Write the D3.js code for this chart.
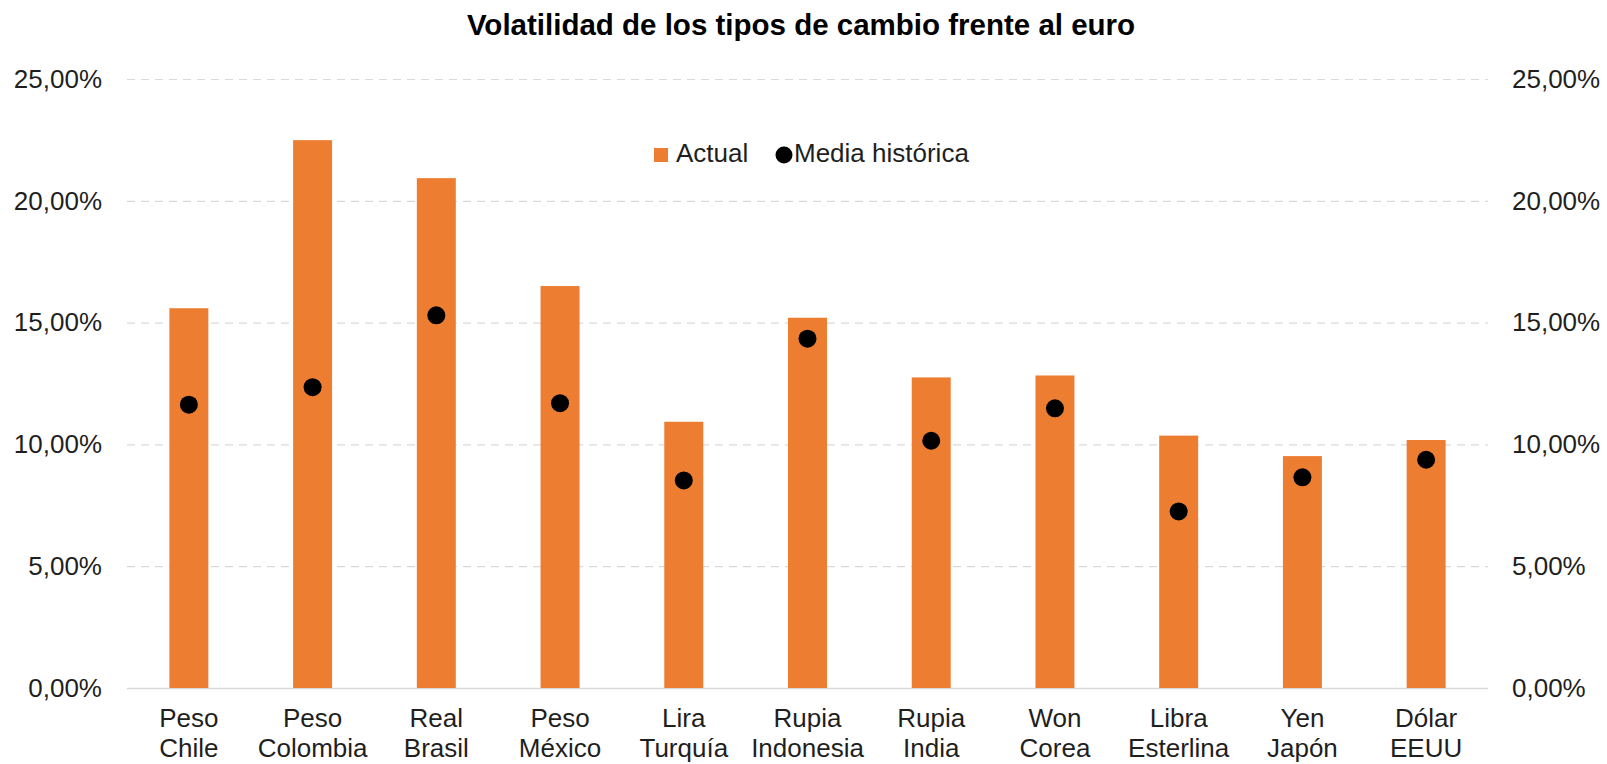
<!DOCTYPE html>
<html>
<head>
<meta charset="utf-8">
<script src="https://cdn.jsdelivr.net/npm/d3@7"></script>
<style>
  body { margin: 0; background: #fff; }
  text { font-family: "Liberation Sans", Arial, sans-serif; fill: #1f1f1f; }
</style>
</head>
<body>
<div id="chart"></div>
<script>
// categories (two lines each)
var categories = [
  ["Peso", "Chile"], ["Peso", "Colombia"], ["Real", "Brasil"], ["Peso", "México"],
  ["Lira", "Turquía"], ["Rupia", "Indonesia"], ["Rupia", "India"], ["Won", "Corea"],
  ["Libra", "Esterlina"], ["Yen", "Japón"], ["Dólar", "EEUU"]
];
// volatilidad actual (%)
var actual = [15.59, 22.49, 20.93, 16.50, 10.93, 15.20, 12.75, 12.83, 10.36, 9.52, 10.18];
// media histórica (%)
var mediaHistorica = [11.63, 12.35, 15.30, 11.69, 8.52, 14.34, 10.15, 11.48, 7.25, 8.65, 9.37];
var yTicks = [0, 5, 10, 15, 20, 25];

var W = 1607, H = 764;
var margin = { top: 79, right: W - 1488, bottom: H - 688, left: 127 };
var orange = "#ED7D31";

var svg = d3.select("#chart").append("svg")
  .attr("width", W)
  .attr("height", H);

var names = categories.map(d => d.join(" "));

var x = d3.scaleBand()
  .domain(names)
  .range([margin.left, W - margin.right])
  .paddingInner(0.685)
  .paddingOuter(0.3425);

var y = d3.scaleLinear()
  .domain([0, 25])
  .range([H - margin.bottom, margin.top]);

var fmt = v => v.toFixed(2).replace(".", ",") + "%";

// title
svg.append("text")
  .attr("x", 801)
  .attr("y", 35)
  .attr("text-anchor", "middle")
  .style("font-size", "29.5px")
  .style("font-weight", "bold")
  .style("fill", "#000")
  .text("Volatilidad de los tipos de cambio frente al euro");

// gridlines
svg.append("g")
  .selectAll("line")
  .data(yTicks)
  .enter()
  .append("line")
  .attr("x1", margin.left)
  .attr("x2", W - margin.right)
  .attr("y1", d => y(d) + 0.5)
  .attr("y2", d => y(d) + 0.5)
  .attr("stroke", "#d9d9d9")
  .attr("stroke-width", d => d === 0 ? 1.5 : 1.2)
  .attr("stroke-dasharray", d => d === 0 ? null : "8,6");

// axes
var yLeft = d3.axisLeft(y).tickValues(yTicks).tickSize(0).tickPadding(25).tickFormat(fmt);
var yRight = d3.axisRight(y).tickValues(yTicks).tickSize(0).tickPadding(24).tickFormat(fmt);

svg.append("g")
  .attr("transform", "translate(" + margin.left + ",0)")
  .call(yLeft)
  .call(g => g.select(".domain").remove())
  .selectAll("text")
  .style("font-size", "26px")
  .attr("fill", "#1f1f1f");

svg.append("g")
  .attr("transform", "translate(" + (W - margin.right) + ",0)")
  .call(yRight)
  .call(g => g.select(".domain").remove())
  .selectAll("text")
  .style("font-size", "26px")
  .attr("fill", "#1f1f1f");

// bars
svg.append("g")
  .selectAll("rect")
  .data(actual)
  .enter()
  .append("rect")
  .attr("x", (d, i) => x(names[i]))
  .attr("width", x.bandwidth())
  .attr("y", d => y(d))
  .attr("height", d => y(0) - y(d))
  .attr("fill", orange);

// media historica
svg.append("g")
  .selectAll("circle")
  .data(mediaHistorica)
  .enter()
  .append("circle")
  .attr("cx", (d, i) => x(names[i]) + x.bandwidth() / 2)
  .attr("cy", d => y(d))
  .attr("r", 9)
  .attr("fill", "#000");

// category labels
var cat = svg.append("g")
  .selectAll("text")
  .data(categories)
  .enter()
  .append("text")
  .attr("text-anchor", "middle")
  .style("font-size", "26px")
  .attr("transform", (d, i) => "translate(" + (x(names[i]) + x.bandwidth() / 2) + ",727)");
cat.append("tspan").attr("x", 0).attr("y", 0).text(d => d[0]);
cat.append("tspan").attr("x", 0).attr("y", 30).text(d => d[1]);

// legend
var legend = svg.append("g");
legend.append("rect")
  .attr("x", 654).attr("y", 148)
  .attr("width", 14).attr("height", 14)
  .attr("fill", orange);
legend.append("text")
  .attr("x", 676).attr("y", 161.5)
  .style("font-size", "26px")
  .text("Actual");
legend.append("circle")
  .attr("cx", 784).attr("cy", 155)
  .attr("r", 8.5)
  .attr("fill", "#000");
legend.append("text")
  .attr("x", 794).attr("y", 161.5)
  .style("font-size", "26px")
  .text("Media histórica");
</script>
</body>
</html>
